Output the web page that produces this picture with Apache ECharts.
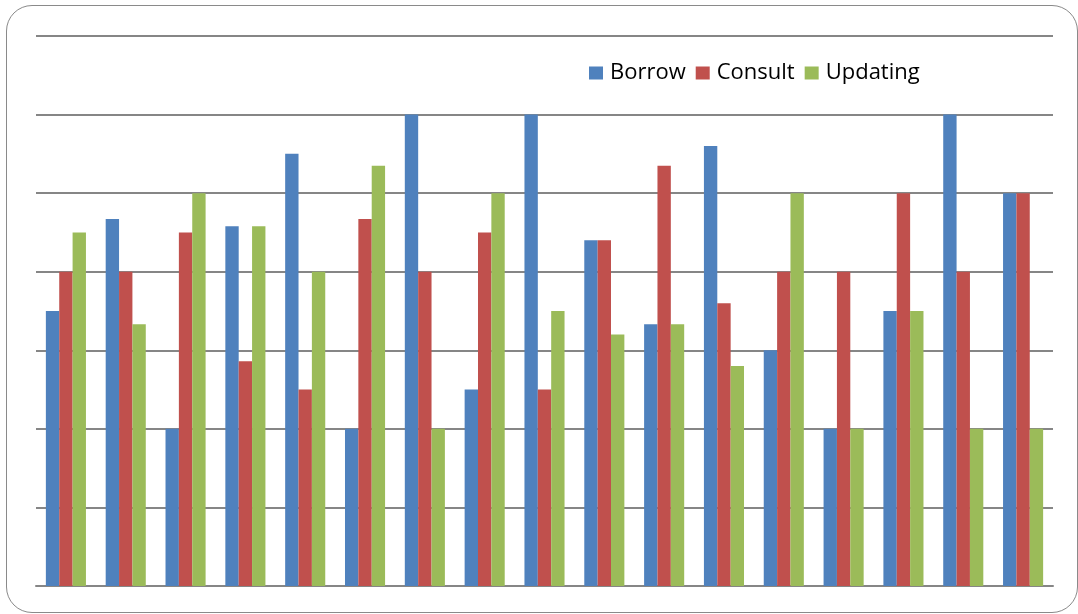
<!DOCTYPE html>
<html>
<head>
<meta charset="utf-8">
<script src="https://cdn.jsdelivr.net/npm/echarts@6/dist/echarts.min.js"></script>
<style>
  html, body { margin: 0; padding: 0; background: #fff; overflow: hidden; }
  #frame {
    position: absolute; left: 6px; top: 5px; width: 1072px; height: 608px;
    box-sizing: border-box;
    border: 1.5px solid #8a8a8a; border-radius: 26px;
  }
  #chart { position: absolute; left: 0; top: 0; width: 1078px; height: 614px; }
</style>
</head>
<body>
<div id="frame"></div>
<div id="chart"></div>
<script>
var categories = ['1', '2', '3', '4', '5', '6', '7', '8', '9', '10', '11', '12', '13', '14', '15', '16', '17'];
var borrow   = [3.5, 4.67, 2, 4.58, 5.5, 2, 6, 2.5, 6, 4.4, 3.33, 5.6, 3, 2, 3.5, 6, 5];
var consult  = [4, 4, 4.5, 2.86, 2.5, 4.67, 4, 4.5, 2.5, 4.4, 5.35, 3.6, 4, 4, 5, 4, 5];
var updating = [4.5, 3.33, 5, 4.58, 4, 5.35, 2, 5, 3.5, 3.2, 3.33, 2.8, 5, 2, 3.5, 2, 2];

var myChart = echarts.init(document.getElementById('chart'));

var option = {
	animation: false,
	color: ['#4F81BD', '#C0504D', '#9BBB59'],
	legend: {
		left: 584,
		top: 57,
		itemWidth: 14,
		itemHeight: 13,
		itemGap: 10,
		icon: 'rect',
		textStyle: {
			fontFamily: 'Open Sans',
			fontSize: 22,
			color: '#000',
			padding: [0, 0, 0, 2]
		},
		data: ['Borrow', 'Consult', 'Updating']
	},
	grid: {
		left: 36,
		right: 25,
		top: 36,
		bottom: 28
	},
	xAxis: {
		type: 'category',
		data: categories,
		axisLine: { lineStyle: { color: '#868686', width: 2 } },
		axisTick: { show: false },
		axisLabel: { show: false }
	},
	yAxis: {
		type: 'value',
		min: 0,
		max: 7,
		interval: 1,
		axisLabel: { show: false },
		axisLine: { show: false },
		axisTick: { show: false },
		splitLine: { lineStyle: { color: '#868686', width: 2 } }
	},
	series: [
		{ name: 'Borrow', type: 'bar', data: borrow, barGap: '0%', barCategoryGap: '33%' },
		{ name: 'Consult', type: 'bar', data: consult, barGap: '0%', barCategoryGap: '33%' },
		{ name: 'Updating', type: 'bar', data: updating, barGap: '0%', barCategoryGap: '33%' }
	]
};

myChart.setOption(option);
</script>
</body>
</html>
